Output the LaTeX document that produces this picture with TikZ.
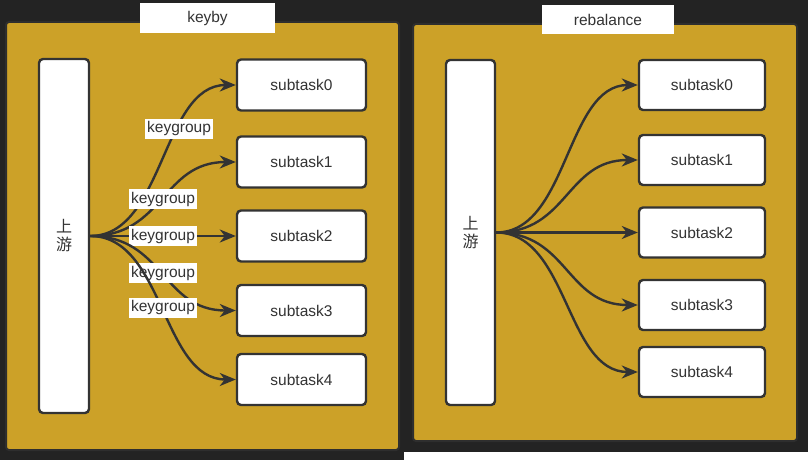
\documentclass[tikz,border=0pt]{standalone}
\usepackage{fontspec}
\setmainfont{Liberation Sans}
\newfontfamily\cjk{Noto Sans CJK SC}
\usetikzlibrary{arrows.meta}
\definecolor{bgdark}{HTML}{232323}
\definecolor{panelgold}{HTML}{CCA128}
\definecolor{paneledge}{HTML}{2E2E2E}
\definecolor{ink}{HTML}{333333}
\tikzset{
  panel/.style={draw=paneledge,line width=2pt,fill=panelgold,rounded corners=3pt},
  titlebox/.style={fill=white,inner sep=0pt,text=ink,font=\fontsize{15.5}{18}\selectfont},
  upbox/.style={draw=ink,line width=2.4pt,fill=white,rounded corners=4pt,inner sep=0pt,text=ink},
  taskbox/.style={draw=ink,line width=2.4pt,fill=white,rounded corners=4pt,inner sep=0pt,text=ink,font=\fontsize{15.5}{18}\selectfont},
  arr/.style={draw=ink,line width=2.4pt,-{Stealth[length=16pt,width=13pt,inset=5pt]}},
  lbl/.style={fill=white,inner xsep=2pt,inner ysep=0pt,minimum height=20pt,text=ink,font=\fontsize{15.5}{18}\selectfont},
}
\begin{document}
\begin{tikzpicture}[x=1pt,y=-1pt]
\useasboundingbox (0,0) rectangle (808,460);
\fill[bgdark] (0,0) rectangle (808,460);
\fill[white] (404,452) rectangle (808,460);
% panels
\draw[panel] (6,22) rectangle (399,450);
\draw[panel] (413,24) rectangle (797,441);
% titles
\node[titlebox,minimum width=135pt,minimum height=30pt] (t1) at (207.5,18) {keyby};
\node[titlebox,minimum width=132pt,minimum height=29pt] (t2) at (608,19.5) {rebalance};
% left panel
\node[upbox,minimum width=50pt,minimum height=354pt] (up1) at (64,236) {\cjk\fontsize{16}{19}\selectfont\shortstack{上\\[1pt]游}};
\node[taskbox,minimum width=129pt,minimum height=51pt] (a0) at (301.5,85) {subtask0};
\node[taskbox,minimum width=129pt,minimum height=51pt] (a1) at (301.5,162) {subtask1};
\node[taskbox,minimum width=129pt,minimum height=51pt] (a2) at (301.5,236) {subtask2};
\node[taskbox,minimum width=129pt,minimum height=51pt] (a3) at (301.5,310.5) {subtask3};
\node[taskbox,minimum width=129pt,minimum height=51pt] (a4) at (301.5,379.5) {subtask4};
\draw[arr] (up1.east) .. controls +(74,0) and +(-74,0) .. (a0.west) node[lbl,pos=0.645] (k0) {keygroup};
\draw[arr] (up1.east) .. controls +(74,0) and +(-74,0) .. (a1.west) node[lbl,pos=0.5] (k1) {keygroup};
\draw[arr] (up1.east) -- (a2.west) node[lbl,pos=0.5] (k2) {keygroup};
\draw[arr] (up1.east) .. controls +(74,0) and +(-74,0) .. (a3.west) node[lbl,pos=0.5] (k3) {keygroup};
\draw[arr] (up1.east) .. controls +(74,0) and +(-74,0) .. (a4.west) node[lbl,pos=0.5] (k4) {keygroup};
% right panel
\node[upbox,minimum width=49pt,minimum height=345pt] (up2) at (470.5,232.5) {\cjk\fontsize{16}{19}\selectfont\shortstack{上\\[1pt]游}};
\node[taskbox,minimum width=126pt,minimum height=50pt] (b0) at (702,85) {subtask0};
\node[taskbox,minimum width=126pt,minimum height=50pt] (b1) at (702,160) {subtask1};
\node[taskbox,minimum width=126pt,minimum height=50pt] (b2) at (702,232.5) {subtask2};
\node[taskbox,minimum width=126pt,minimum height=50pt] (b3) at (702,305) {subtask3};
\node[taskbox,minimum width=126pt,minimum height=50pt] (b4) at (702,372) {subtask4};
\draw[arr] (up2.east) .. controls +(72,0) and +(-72,0) .. (b0.west);
\draw[arr] (up2.east) .. controls +(72,0) and +(-72,0) .. (b1.west);
\draw[arr] (up2.east) -- (b2.west);
\draw[arr] (up2.east) .. controls +(72,0) and +(-72,0) .. (b3.west);
\draw[arr] (up2.east) .. controls +(72,0) and +(-72,0) .. (b4.west);
\end{tikzpicture}
\end{document}
